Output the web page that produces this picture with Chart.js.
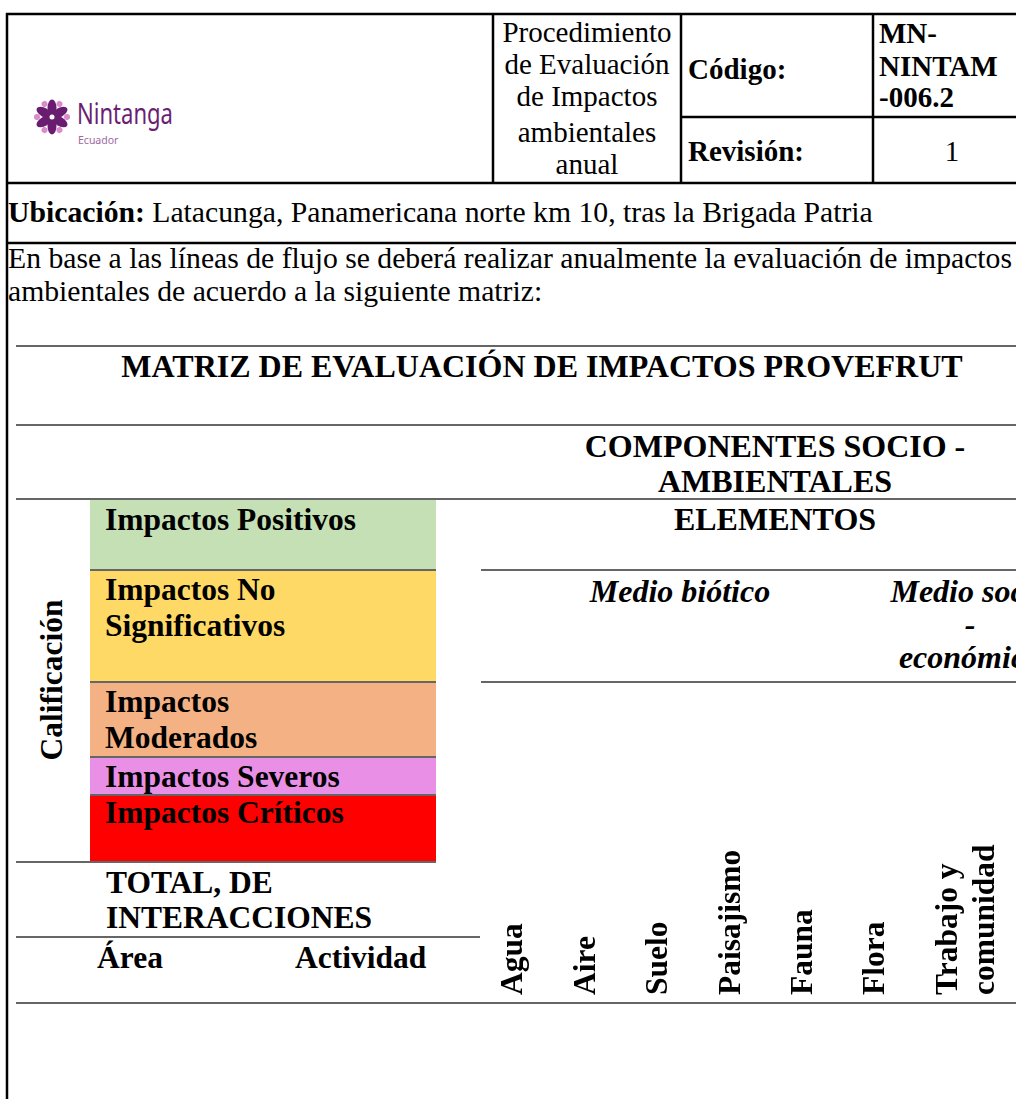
<!DOCTYPE html>
<html lang="es">
<head>
<meta charset="utf-8">
<title>Matriz de evaluación de impactos PROVEFRUT</title>
<script src="https://cdn.jsdelivr.net/npm/chart.js@4.4.1/dist/chart.umd.min.js"></script>
<style>
    html, body { margin: 0; padding: 0; background: #fff; }
    #page { position: relative; width: 1016px; height: 1099px; overflow: hidden; }
    #doc { position: absolute; left: 0; top: 0; font-family: 'Liberation Serif', 'Times New Roman', serif; }
    #chart-elementos { position: absolute; left: 430px; top: 830px; }
</style>
</head>
<body>
<div id="page">
<svg id="doc" width="1016" height="1099" xmlns="http://www.w3.org/2000/svg">
    <!-- logo -->
    <g id="logo" transform="translate(52,117)"></g>
    <text x="77" y="124" font-family="'Noto Sans', sans-serif" font-size="29" fill="#6b1f73" textLength="96" lengthAdjust="spacingAndGlyphs">Nintanga</text>
    <text x="78" y="144" font-family="'Noto Sans', sans-serif" font-size="10.5" fill="#9b6aa0">Ecuador</text>

    <!-- encabezado -->
    <g font-size="29" text-anchor="middle">
        <text x="587" y="42">Procedimiento</text>
        <text x="587" y="74">de Evaluación</text>
        <text x="587" y="106">de Impactos</text>
        <text x="587" y="142">ambientales</text>
        <text x="587" y="174">anual</text>
        <text x="952" y="161">1</text>
    </g>
    <g font-size="29" font-weight="bold">
        <text x="688" y="79">Código:</text>
        <text x="688" y="161">Revisión:</text>
        <text x="879" y="43">MN-</text>
        <text x="879" y="76">NINTAM</text>
        <text x="879" y="107">-006.2</text>
    </g>

    <g font-size="29.7">
        <text x="8" y="222"><tspan font-weight="bold">Ubicación:</tspan> Latacunga, Panamericana norte km 10, tras la Brigada Patria</text>
        <text x="8" y="268">En base a las líneas de flujo se deberá realizar anualmente la evaluación de impactos</text>
        <text x="8" y="301">ambientales de acuerdo a la siguiente matriz:</text>
    </g>

    <g font-weight="bold" font-size="31.5">
        <text x="542" y="377" text-anchor="middle" font-size="32">MATRIZ DE EVALUACIÓN DE IMPACTOS PROVEFRUT</text>
        <text x="775" y="457" text-anchor="middle" font-size="32">COMPONENTES SOCIO -</text>
        <text x="775" y="492" text-anchor="middle" font-size="32">AMBIENTALES</text>
        <text x="775" y="530" text-anchor="middle" font-size="32">ELEMENTOS</text>
        <text x="680" y="602" text-anchor="middle" font-style="italic" font-size="32">Medio biótico</text>
        <text x="970" y="602" text-anchor="middle" font-style="italic" font-size="32">Medio socio</text>
        <text x="970" y="635" text-anchor="middle" font-style="italic" font-size="32">-</text>
        <text x="970" y="668" text-anchor="middle" font-style="italic" font-size="32">económico</text>
        <text transform="translate(62,680) rotate(-90)" text-anchor="middle">Calificación</text>
        <text x="106" y="893">TOTAL, DE</text>
        <text x="106" y="928">INTERACCIONES</text>
        <text x="97" y="968">Área</text>
        <text x="295" y="968">Actividad</text>
    </g>

    <g id="calificacion"></g>

    <!-- lineas grises de la matriz -->
    <g stroke="#666" stroke-width="2">
        <line x1="16" y1="346" x2="1016" y2="346"/>
        <line x1="16" y1="425" x2="1016" y2="425"/>
        <line x1="16" y1="499" x2="1016" y2="499"/>
        <line x1="481" y1="570" x2="1016" y2="570"/>
        <line x1="481" y1="682" x2="1016" y2="682"/>
        <line x1="16" y1="862" x2="436" y2="862"/>
        <line x1="16" y1="937" x2="480" y2="937"/>
        <line x1="16" y1="1003" x2="1016" y2="1003"/>
    </g>

    <!-- bordes negros -->
    <g stroke="#000" stroke-width="2.5">
        <line x1="6" y1="14" x2="1016" y2="14"/>
        <line x1="7" y1="13" x2="7" y2="1099"/>
        <line x1="6" y1="183" x2="1016" y2="183"/>
        <line x1="6" y1="243" x2="1016" y2="243"/>
        <line x1="493" y1="14" x2="493" y2="183"/>
        <line x1="681" y1="14" x2="681" y2="183"/>
        <line x1="873" y1="14" x2="873" y2="183"/>
        <line x1="681" y1="117" x2="1016" y2="117"/>
    </g>
</svg>
<canvas id="chart-elementos" width="586" height="269"></canvas>
</div>

<script>
// columnas de la matriz (elementos evaluados)
const elementos = ['Agua', 'Aire', 'Suelo', 'Paisajismo', 'Fauna', 'Flora', ['Trabajo y', 'comunidad']];
// la matriz todavía no tiene interacciones cargadas
const interacciones = [null, null, null, null, null, null, null];

// escala de calificación
const calificaciones = [
    ['Impactos Positivos'],
    ['Impactos No', 'Significativos'],
    ['Impactos', 'Moderados'],
    ['Impactos Severos'],
    ['Impactos Críticos']
];
const coloresCalificacion = ['#c5e0b4', '#ffd966', '#f4b183', '#e98fe6', '#ff0000'];

const SVG_NS = 'http://www.w3.org/2000/svg';

function svgEl(tag, attrs, parent) {
    const el = document.createElementNS(SVG_NS, tag);
    Object.entries(attrs).forEach(([k, v]) => el.setAttribute(k, v));
    parent.appendChild(el);
    return el;
}

function drawLogo() {
    const g = document.getElementById('logo');
    for (let i = 0; i < 6; i++) {
        const a = i * 60;
        svgEl('ellipse', { cx: 0, cy: -9, rx: 4.5, ry: 8.5, fill: '#6a1d70', transform: `rotate(${a})` }, g);
        svgEl('circle', { cx: 0, cy: -15, r: 3, fill: '#d98bcb', transform: `rotate(${a + 30})` }, g);
    }
    svgEl('circle', { cx: 0, cy: 0, r: 2.5, fill: '#fff' }, g);
}

function drawCalificacion() {
    const g = document.getElementById('calificacion');
    const tops = [500, 571, 683, 758, 796];
    const bottoms = [569, 681, 756, 794, 861];
    const firstBaseline = [530, 600, 712, 787, 823];
    calificaciones.forEach((lines, i) => {
        svgEl('rect', { x: 90, y: tops[i], width: 346, height: bottoms[i] - tops[i] + 1, fill: coloresCalificacion[i] }, g);
        lines.forEach((txt, j) => {
            const t = svgEl('text', { x: 105, y: firstBaseline[i] + j * 36, 'font-weight': 'bold', 'font-size': 31.5 }, g);
            t.textContent = txt;
        });
        if (i > 0) svgEl('line', { x1: 90, y1: tops[i] - 1, x2: 436, y2: tops[i] - 1, stroke: '#666', 'stroke-width': 2 }, g);
    });
}

function fixedWidth(w) {
    return scale => { scale.width = w; };
}

function renderElementos() {
    const ctx = document.getElementById('chart-elementos');
    const hiddenAxis = {
        display: true,
        ticks: { display: false },
        grid: { display: false, drawTicks: false },
        border: { display: false }
    };

    new Chart(ctx, {
        type: 'bar',
        data: {
            labels: elementos,
            datasets: [{ data: interacciones, backgroundColor: '#000' }]
        },
        options: {
            responsive: false,
            animation: false,
            layout: { padding: { top: 8, left: 0, right: 0, bottom: 0 } },
            plugins: { legend: { display: false }, tooltip: { enabled: false } },
            scales: {
                x: {
                    position: 'top',
                    offset: true,
                    grid: { display: false, drawTicks: false },
                    border: { display: false },
                    ticks: {
                        autoSkip: false,
                        minRotation: 90,
                        maxRotation: 90,
                        padding: 3,
                        labelOffset: 74,
                        color: '#000',
                        font: { family: "'Liberation Serif', 'Times New Roman', serif", size: 31.5, weight: 'bold', lineHeight: 1.175 },
                        // todas las etiquetas en dos renglones para que queden alineadas igual
                        callback: function (value) {
                            const l = this.getLabelForValue(value);
                            return Array.isArray(l) ? l : [l, ''];
                        }
                    },
                    afterFit: scale => { scale.height = 160; }
                },
                y: Object.assign({}, hiddenAxis, { position: 'left', afterFit: fixedWidth(48) }),
                y2: Object.assign({}, hiddenAxis, { position: 'right', afterFit: fixedWidth(31) })
            }
        }
    });
}

drawLogo();
drawCalificacion();
renderElementos();
</script>
</body>
</html>
